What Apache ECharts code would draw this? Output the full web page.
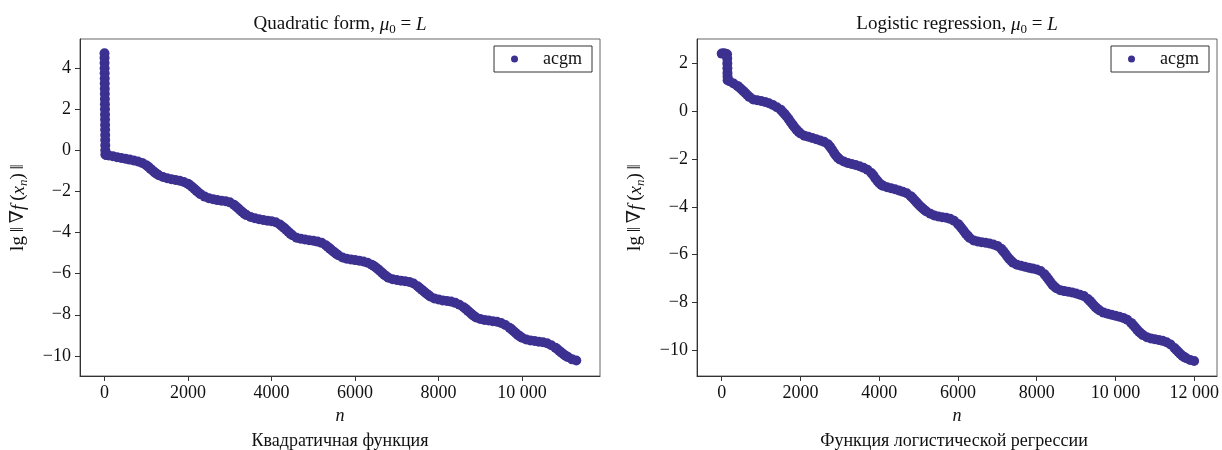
<!DOCTYPE html>
<html>
<head>
<meta charset="utf-8">
<script src="https://cdn.jsdelivr.net/npm/echarts@6/dist/echarts.min.js"></script>
<style>
html,body{margin:0;padding:0;background:#fff;}
#chart{width:1222px;height:450px;}
</style>
</head>
<body>
<div id="chart"></div>
<script>
// ---------- DATA ----------
// Left panel: Quadratic form
const quadN = [0,1,2,3,4,5,6,7,8,9,10,11,12,13,14,15,16,17,18,19,20,40,
  100,200,300,400,500,600,700,800,900,1000,1100,1200,1300,1400,1500,1600,1700,1800,1900,
  2000,2100,2200,2300,2400,2500,2600,2700,2800,2900,3000,3100,3200,3300,3400,3500,3600,3700,3800,3900,
  4000,4100,4200,4300,4400,4500,4600,4700,4800,4900,5000,5100,5200,5300,5400,5500,5600,5700,5800,5900,
  6000,6100,6200,6300,6400,6500,6600,6700,6800,6900,7000,7100,7200,7300,7400,7500,7600,7700,7800,7900,
  8000,8100,8200,8300,8400,8500,8600,8700,8800,8900,9000,9100,9200,9300,9400,9500,9600,9700,9800,9900,
  10000,10100,10200,10300,10400,10500,10600,10700,10800,10900,11000,11100,11200,11300];
const quadLg = [4.73,4.5,4.25,4.0,3.75,3.5,3.25,3.0,2.75,2.5,2.25,2.0,1.75,1.5,1.25,1.0,0.75,0.5,0.25,0.0,-0.2,-0.23,
  -0.25,-0.29,-0.33,-0.37,-0.41,-0.45,-0.49,-0.54,-0.61,-0.72,-0.89,-1.07,-1.21,-1.30,-1.36,-1.40,-1.44,-1.48,-1.54,
  -1.63,-1.78,-1.96,-2.13,-2.25,-2.33,-2.38,-2.42,-2.45,-2.48,-2.53,-2.65,-2.82,-3.00,-3.15,-3.24,-3.30,-3.35,-3.39,-3.42,
  -3.45,-3.50,-3.61,-3.77,-3.96,-4.13,-4.25,-4.30,-4.34,-4.37,-4.40,-4.44,-4.50,-4.62,-4.78,-4.95,-5.10,-5.21,-5.27,-5.31,
  -5.34,-5.37,-5.41,-5.47,-5.57,-5.70,-5.87,-6.05,-6.20,-6.27,-6.31,-6.34,-6.37,-6.40,-6.48,-6.61,-6.78,-6.95,-7.11,-7.21,
  -7.26,-7.30,-7.33,-7.36,-7.42,-7.51,-7.63,-7.80,-7.98,-8.13,-8.21,-8.25,-8.28,-8.31,-8.34,-8.40,-8.50,-8.63,-8.80,-8.98,
  -9.12,-9.20,-9.25,-9.28,-9.31,-9.34,-9.39,-9.48,-9.60,-9.77,-9.93,-10.06,-10.17,-10.23];
// extra points read on the steep parts of the left curve
const quadSteepN = [1050,1150,1250,2050,2150,2250,3150,3250,3350,4250,4350,4450,5350,5450,5550,
  6450,6550,6650,6750,7550,7650,7750,8650,8750,8850,9750,9850,9950,10850,10950,11050];
const quadSteepLg = [-0.80,-0.98,-1.14,-1.70,-1.87,-2.05,-2.73,-2.91,-3.08,-3.69,-3.86,-4.05,-4.70,-4.87,-5.03,
  -5.63,-5.78,-5.96,-6.13,-6.70,-6.87,-7.03,-7.71,-7.89,-8.06,-8.71,-8.89,-9.05,-9.68,-9.85,-10.00];

// Right panel: Logistic regression
const logN = [0,50,100,135,140,142,144,146,148,150,
  200,300,400,500,600,700,800,900,1000,1100,1200,1300,1400,1500,1600,1700,1800,1900,
  2000,2100,2200,2300,2400,2500,2600,2700,2800,2900,3000,3100,3200,3300,3400,3500,3600,3700,3800,3900,
  4000,4100,4200,4300,4400,4500,4600,4700,4800,4900,5000,5100,5200,5300,5400,5500,5600,5700,5800,5900,
  6000,6100,6200,6300,6400,6500,6600,6700,6800,6900,7000,7100,7200,7300,7400,7500,7600,7700,7800,7900,
  8000,8100,8200,8300,8400,8500,8600,8700,8800,8900,9000,9100,9200,9300,9400,9500,9600,9700,9800,9900,
  10000,10100,10200,10300,10400,10500,10600,10700,10800,10900,11000,11100,11200,11300,11400,11500,11600,11700,11800,11900,12000];
const logLg = [2.41,2.42,2.40,2.38,2.2,2.0,1.8,1.6,1.45,1.30,
  1.25,1.16,1.06,0.92,0.76,0.60,0.49,0.46,0.43,0.39,0.33,0.26,0.17,0.06,-0.12,-0.33,-0.56,-0.77,
  -0.93,-1.02,-1.07,-1.12,-1.17,-1.22,-1.28,-1.38,-1.60,-1.85,-2.02,-2.10,-2.16,-2.21,-2.25,-2.30,-2.36,-2.45,-2.58,-2.80,
  -3.00,-3.12,-3.18,-3.22,-3.26,-3.31,-3.37,-3.43,-3.55,-3.72,-3.90,-4.06,-4.19,-4.29,-4.36,-4.40,-4.43,-4.45,-4.50,-4.58,
  -4.71,-4.90,-5.12,-5.30,-5.40,-5.45,-5.48,-5.50,-5.53,-5.57,-5.63,-5.75,-5.95,-6.17,-6.33,-6.42,-6.46,-6.50,-6.54,-6.58,
  -6.62,-6.68,-6.82,-7.03,-7.25,-7.40,-7.48,-7.52,-7.55,-7.58,-7.62,-7.67,-7.73,-7.85,-8.02,-8.20,-8.33,-8.42,-8.47,-8.51,
  -8.55,-8.59,-8.64,-8.72,-8.85,-9.03,-9.22,-9.36,-9.45,-9.50,-9.53,-9.56,-9.60,-9.66,-9.75,-9.90,-10.07,-10.22,-10.33,-10.40,-10.44];
// extra points read on the steep parts of the right curve
const logSteepN = [450,550,650,1550,1650,1750,1850,1950,2750,2850,2950,3850,3950,4050,4850,4950,5050,5150,
  6050,6150,6250,7150,7250,7350,8250,8350,8450,9350,9450,9550,10450,10550,10650,11550,11650,11750];
const logSteepLg = [0.99,0.84,0.68,-0.03,-0.22,-0.45,-0.67,-0.86,-1.48,-1.73,-1.94,-2.68,-2.90,-3.07,-3.63,-3.81,-3.98,-4.13,
  -4.80,-5.01,-5.21,-5.85,-6.06,-6.25,-6.92,-7.14,-7.33,-7.93,-8.11,-8.27,-8.94,-9.13,-9.29,-9.98,-10.15,-10.28];

// Ticks
const quadXTicks = [0,2000,4000,6000,8000,10000];
const quadXTickLabels = ['0','2000','4000','6000','8000','10 000'];
const quadYTicks = [-10,-8,-6,-4,-2,0,2,4];
const logXTicks = [0,2000,4000,6000,8000,10000,12000];
const logXTickLabels = ['0','2000','4000','6000','8000','10 000','12 000'];
const logYTicks = [-10,-8,-6,-4,-2,0,2];

// Texts
const seriesName = 'acgm';
const titleLeft = 'Quadratic form, ';
const titleRight = 'Logistic regression, ';
const captionLeft = 'Квадратичная функция';
const captionRight = 'Функция логистической регрессии';

// ---------- CHART ----------
const SERIF = '"Liberation Serif","DejaVu Serif",serif';
const COLOR = '#3c3090';
const chart = echarts.init(document.getElementById('chart'), null, {renderer: 'canvas'});

const pair = (xs, ys) => xs.map((x, i) => [x, ys[i]]);
const minusFmt = v => String(v).replace('-', '\u2212');

function rich(fs, sub) {
  const base = {fontFamily: SERIF, fontSize: fs, fontWeight: 'normal', color: '#111', lineHeight: fs + 4};
  return {
    a: Object.assign({}, base),
    i: Object.assign({}, base, {fontStyle: 'italic'}),
    s: {fontFamily: SERIF, fontSize: sub, fontWeight: 'normal', color: '#111', lineHeight: sub, verticalAlign: 'bottom'},
    si: {fontFamily: SERIF, fontSize: sub, fontWeight: 'normal', fontStyle: 'italic', color: '#111', lineHeight: sub, verticalAlign: 'bottom'}
  };
}
const titleRich = rich(19, 13);
const nameRich = rich(19, 13);
const titleText = t => '{a|' + t + '}{i|μ}{s|0}{a| = }{i|L}';
const yName = '{a|lg\u2009‖\u2009∇}{i|f}{a|\u2009(}{i|x}{si|n}{a|)\u2009‖}';

function xAxis(gi, min, max, ticks, labels) {
  return {
    type: 'value', gridIndex: gi, min: min, max: max,
    name: 'n', nameLocation: 'middle', nameGap: 24,
    nameTextStyle: {fontFamily: SERIF, fontSize: 18, fontStyle: 'italic', color: '#111'},
    splitLine: {show: false},
    axisLine: {show: true, onZero: false, lineStyle: {color: '#333', width: 1}},
    axisTick: {show: true, length: 5, inside: false, customValues: ticks, lineStyle: {color: '#333'}},
    axisLabel: {customValues: ticks, margin: 8, fontFamily: SERIF, fontSize: 18, color: '#111',
      formatter: v => { const k = ticks.indexOf(v); return k >= 0 ? labels[k] : ''; }}
  };
}
function yAxis(gi, min, max, ticks) {
  return {
    type: 'value', gridIndex: gi, min: min, max: max,
    name: yName, nameLocation: 'middle', nameGap: 50, nameRotate: 90,
    nameTextStyle: {rich: nameRich},
    splitLine: {show: false},
    axisLine: {show: true, onZero: false, lineStyle: {color: '#333', width: 1}},
    axisTick: {show: true, length: 5, inside: false, customValues: ticks, lineStyle: {color: '#333'}},
    axisLabel: {customValues: ticks, margin: 9, fontFamily: SERIF, fontSize: 18, color: '#111', formatter: minusFmt}
  };
}
function legend(right) {
  return {
    data: [seriesName], right: right, top: 46, orient: 'vertical',
    borderColor: '#333', borderWidth: 1, borderRadius: 0,
    padding: [4, 10, 4, 17], itemWidth: 7, itemHeight: 7, icon: 'circle',
    selectedMode: false,
    textStyle: {fontFamily: SERIF, fontSize: 18, color: '#111', padding: [0, 0, 0, 20], lineHeight: 18}
  };
}

const option = {
  animation: false,
  backgroundColor: '#fff',
  title: [
    {text: titleText(titleLeft), left: 340, top: 13, textAlign: 'center', padding: 0, textStyle: {fontWeight: 'normal', rich: titleRich}},
    {text: titleText(titleRight), left: 957, top: 13, textAlign: 'center', padding: 0, textStyle: {fontWeight: 'normal', rich: titleRich}},
    {text: captionLeft, left: 340, top: 432, textAlign: 'center', padding: 0,
      textStyle: {fontFamily: SERIF, fontSize: 18, fontWeight: 'normal', color: '#111'}},
    {text: captionRight, left: 954, top: 432, textAlign: 'center', padding: 0,
      textStyle: {fontFamily: SERIF, fontSize: 18, fontWeight: 'normal', color: '#111'}}
  ],
  legend: [legend(1222 - 592), legend(1222 - 1209)],
  grid: [
    {left: 80, top: 39, width: 520, height: 337, show: true, borderColor: '#666', borderWidth: 1, backgroundColor: 'transparent'},
    {left: 697, top: 39, width: 520, height: 337, show: true, borderColor: '#666', borderWidth: 1, backgroundColor: 'transparent'}
  ],
  xAxis: [
    xAxis(0, -587, 11868, quadXTicks, quadXTickLabels),
    xAxis(1, -628, 12581, logXTicks, logXTickLabels)
  ],
  yAxis: [
    yAxis(0, -10.98, 5.42, quadYTicks),
    yAxis(1, -11.07, 3.02, logYTicks)
  ],
  series: [
    {name: seriesName, type: 'scatter', xAxisIndex: 0, yAxisIndex: 0, symbol: 'circle', symbolSize: 10,
      itemStyle: {color: COLOR, opacity: 1},
      data: pair(quadN, quadLg).concat(pair(quadSteepN, quadSteepLg))},
    {name: seriesName, type: 'scatter', xAxisIndex: 1, yAxisIndex: 1, symbol: 'circle', symbolSize: 10,
      itemStyle: {color: COLOR, opacity: 1},
      data: pair(logN, logLg).concat(pair(logSteepN, logSteepLg))}
  ]
};
chart.setOption(option);
</script>
</body>
</html>
